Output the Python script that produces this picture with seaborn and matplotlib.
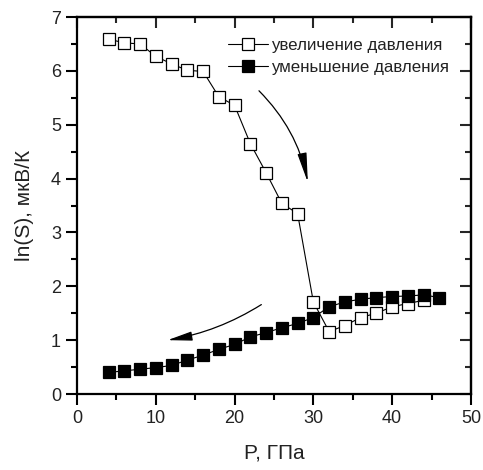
import matplotlib
matplotlib.use("Agg")
import matplotlib.pyplot as plt
import seaborn as sns
import pandas as pd
from matplotlib.ticker import MultipleLocator

# ---- data ----
p_inc = [4, 6, 8, 10, 12, 14, 16, 18, 20, 22, 24, 26, 28, 30, 32, 34, 36, 38, 40, 42, 44]
lnS_inc = [6.59, 6.52, 6.50, 6.27, 6.13, 6.01, 5.99, 5.52, 5.36, 4.65, 4.11, 3.54, 3.35,
           1.71, 1.16, 1.27, 1.42, 1.50, 1.62, 1.68, 1.74]
p_dec = [4, 6, 8, 10, 12, 14, 16, 18, 20, 22, 24, 26, 28, 30, 32, 34, 36, 38, 40, 42, 44, 46]
lnS_dec = [0.40, 0.43, 0.46, 0.49, 0.53, 0.63, 0.72, 0.83, 0.92, 1.06, 1.14, 1.23, 1.31,
           1.42, 1.62, 1.71, 1.76, 1.79, 1.81, 1.82, 1.84, 1.79]
label_inc = "увеличение давления"
label_dec = "уменьшение давления"
xlabel = "P, ГПа"
ylabel = "ln(S), мкВ/К"

sns.set_style("ticks")
plt.rcParams['font.family'] = ['Liberation Sans', 'DejaVu Sans']

fig = plt.figure(figsize=(4.83, 4.70), dpi=100)
ax = fig.add_axes([0.1594, 0.1617, 0.8156, 0.8021])

df_inc = pd.DataFrame({"P": p_inc, "S": lnS_inc})
df_dec = pd.DataFrame({"P": p_dec, "S": lnS_dec})

sns.lineplot(data=df_inc, x="P", y="S", ax=ax, color="black", lw=0.8,
             marker="s", markersize=9, markerfacecolor="white",
             markeredgecolor="black", markeredgewidth=0.9, label=label_inc)
sns.lineplot(data=df_dec, x="P", y="S", ax=ax, color="black", lw=0.8,
             marker="s", markersize=9, markerfacecolor="black",
             markeredgecolor="black", markeredgewidth=0.9, label=label_dec)

ax.set_xlim(0, 50)
ax.set_ylim(0, 7)
ax.xaxis.set_major_locator(MultipleLocator(10))
ax.xaxis.set_minor_locator(MultipleLocator(5))
ax.yaxis.set_major_locator(MultipleLocator(1))
ax.yaxis.set_minor_locator(MultipleLocator(0.5))

for s in ax.spines.values():
    s.set_linewidth(1.6)
    s.set_color("black")
    s.set_visible(True)

ax.tick_params(which="both", direction="out", color="black", width=1.5,
               labelsize=13, labelcolor="#222222")
ax.tick_params(which="major", length=8)
ax.tick_params(which="minor", length=4)

# mirrored inward ticks on top/right
sec_x = ax.secondary_xaxis("top")
sec_x.xaxis.set_major_locator(MultipleLocator(10))
sec_x.xaxis.set_minor_locator(MultipleLocator(5))
sec_x.tick_params(which="both", direction="in", width=1.5, labeltop=False)
sec_x.tick_params(which="major", length=8)
sec_x.tick_params(which="minor", length=4)
sec_x.spines["top"].set_linewidth(1.6)
sec_y = ax.secondary_yaxis("right")
sec_y.yaxis.set_major_locator(MultipleLocator(1))
sec_y.yaxis.set_minor_locator(MultipleLocator(0.5))
sec_y.tick_params(which="both", direction="in", width=1.5, labelright=False)
sec_y.tick_params(which="major", length=8)
sec_y.tick_params(which="minor", length=4)
sec_y.spines["right"].set_linewidth(1.6)

ax.set_xlabel(xlabel, fontsize=15, color="#222222", labelpad=12)
ax.set_ylabel(ylabel, fontsize=15, color="#222222", labelpad=12)

leg = ax.legend(loc="upper right", bbox_to_anchor=(0.97, 0.972), frameon=False,
                fontsize=12.2, handlelength=2.4, handletextpad=0.15,
                labelspacing=0.42, borderaxespad=0.2)
for t in leg.get_texts():
    t.set_color("#222222")

# arrows
ax.annotate("", xy=(29.3, 3.93), xytext=(23.1, 5.63),
            arrowprops=dict(arrowstyle="-|>,head_length=1.8,head_width=0.28",
                            color="black", lw=0.9, mutation_scale=10,
                            connectionstyle="arc3,rad=-0.15", shrinkA=0, shrinkB=0))
ax.annotate("", xy=(11.5, 1.0), xytext=(23.4, 1.66),
            arrowprops=dict(arrowstyle="-|>,head_length=1.5,head_width=0.28",
                            color="black", lw=0.9, mutation_scale=10,
                            connectionstyle="arc3,rad=-0.1", shrinkA=0, shrinkB=0))

fig.savefig("out.png", dpi=100)
